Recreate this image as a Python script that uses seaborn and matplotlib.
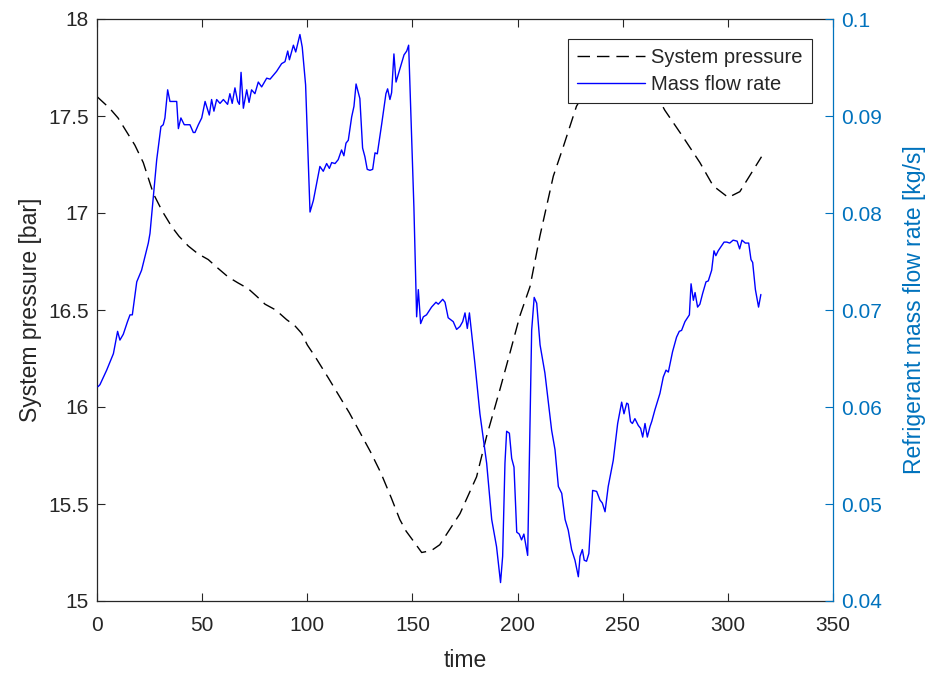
import numpy as np
import pandas as pd
import matplotlib
matplotlib.use("Agg")
import matplotlib.pyplot as plt
import seaborn as sns

# ---------------- data ----------------
time_p = [0, 3, 6, 10, 14, 18, 22, 26.8, 31, 35.5, 39, 43.4, 48, 52.9, 57, 62.4, 67, 71.9,
          76, 79.9, 85, 90.2, 94, 97.3, 100, 103.7, 110, 115, 120, 125, 130, 135, 140, 144,
          147, 150.4, 154.4, 159, 163, 166, 172.6, 180.5, 185.3, 191.6, 196.4, 201.1, 205.9,
          210.6, 217, 221.7, 228, 235, 242, 249, 256, 263, 270, 278.8, 286.7, 293, 300.2,
          305.7, 312, 316]
pressure = [17.60, 17.57, 17.54, 17.49, 17.42, 17.35, 17.26, 17.10, 17.01, 16.93, 16.88,
            16.83, 16.79, 16.76, 16.72, 16.67, 16.64, 16.61, 16.57, 16.53, 16.50, 16.45,
            16.42, 16.38, 16.32, 16.26, 16.15, 16.06, 15.97, 15.87, 15.77, 15.66, 15.53,
            15.42, 15.36, 15.31, 15.25, 15.26, 15.29, 15.34, 15.45, 15.64, 15.85, 16.09,
            16.28, 16.47, 16.62, 16.88, 17.19, 17.34, 17.55, 17.68, 17.76, 17.79, 17.76,
            17.67, 17.53, 17.39, 17.26, 17.14, 17.08, 17.11, 17.22, 17.29]

time_m = [0.5, 1.4, 4.6, 7.8, 9.8, 10.9, 12.5, 14.5, 15.7, 16.8, 18.9, 21.2, 24.4, 25.2,
          26.8, 28.4, 30.4, 31.5, 32.3, 33.6, 34.7, 37.1, 37.9, 38.7, 39.9, 41.5, 44.2,
          45.8, 46.6, 48.2, 49.8, 51.4, 53.4, 54.5, 55.6, 56.9, 58.5, 60.1, 62.1, 63.2,
          64.3, 65.6, 66.9, 67.7, 68.5, 69.6, 71.2, 72.3, 73.5, 75.1, 76.7, 78.3, 80.7,
          82.3, 85.4, 87.8, 89.4, 90.7, 91.5, 93.4, 94.5, 96.5, 97.6, 99.2, 101.3, 102.9,
          104.5, 106.0, 107.6, 109.2, 110.5, 111.6, 113.2, 114.7, 116.3, 117.4, 118.4,
          119.5, 121.1, 122.2, 123.2, 125.0, 126.3, 127.4, 128.5, 129.8, 131.1, 132.2,
          133.3, 135.4, 137.4, 138.2, 139.3, 140.1, 141.2, 142.2, 144.1, 146.0, 147.3,
          148.2, 149.1, 150.7, 152.0, 152.8, 153.9, 155.2, 156.7, 159.1, 161.2, 162.3,
          164.4, 165.5, 167.0, 169.4, 171.0, 172.6, 173.9, 175.0, 176.1, 177.1, 179.7,
          182.1, 185.3, 187.7, 190.0, 191.9, 192.9, 194.0, 194.8, 196.1, 197.2, 198.3,
          199.6, 200.8, 201.9, 203.0, 204.8, 206.7, 207.9, 209.1, 210.7, 213.0, 216.2,
          217.8, 219.4, 221.0, 222.6, 224.1, 225.7, 227.3, 228.9, 229.7, 230.8, 231.7,
          232.8, 233.9, 235.7, 237.6, 239.2, 240.3, 241.6, 243.1, 245.5, 247.6, 249.5,
          250.6, 251.9, 252.6, 253.7, 254.6, 255.8, 257.4, 258.5, 259.5, 260.6, 261.7,
          263.0, 263.8, 265.3, 267.7, 269.3, 270.6, 271.7, 273.7, 275.6, 276.9, 278.0,
          279.6, 281.7, 282.5, 283.6, 284.4, 285.6, 286.7, 288.0, 289.6, 290.7, 292.3,
          293.4, 294.3, 295.4, 298.2, 299.5, 300.9, 302.5, 304.4, 305.6, 306.7, 308.3,
          309.9, 311.0, 311.8, 313.1, 314.6, 315.7]
mass_flow = [0.0621, 0.0623, 0.0638, 0.0655, 0.0678, 0.0669, 0.0675, 0.0688, 0.0695, 0.0695,
             0.0729, 0.0741, 0.0769, 0.0779, 0.0817, 0.0855, 0.0889, 0.0891, 0.0898, 0.0927,
             0.0915, 0.0915, 0.0915, 0.0887, 0.0898, 0.0891, 0.0891, 0.0883, 0.0883, 0.0891,
             0.0898, 0.0915, 0.0901, 0.0917, 0.0905, 0.0917, 0.0913, 0.0917, 0.0912, 0.0923,
             0.0913, 0.0929, 0.0915, 0.0912, 0.0945, 0.0908, 0.0927, 0.0914, 0.0927, 0.0923,
             0.0935, 0.0930, 0.0939, 0.0938, 0.0946, 0.0954, 0.0956, 0.0967, 0.0958, 0.0973,
             0.0966, 0.0984, 0.0971, 0.0932, 0.0801, 0.0813, 0.0831, 0.0848, 0.0843, 0.0851,
             0.0846, 0.0852, 0.0851, 0.0855, 0.0865, 0.0859, 0.0872, 0.0875, 0.0899, 0.0910,
             0.0933, 0.0918, 0.0867, 0.0858, 0.0845, 0.0844, 0.0845, 0.0862, 0.0861, 0.0892,
             0.0923, 0.0928, 0.0917, 0.0924, 0.0964, 0.0935, 0.0949, 0.0963, 0.0967, 0.0973,
             0.0913, 0.0806, 0.0693, 0.0721, 0.0686, 0.0693, 0.0695, 0.0703, 0.0708, 0.0706,
             0.0711, 0.0708, 0.0692, 0.0688, 0.0680, 0.0683, 0.0688, 0.0697, 0.0681, 0.0697,
             0.0645, 0.0593, 0.0542, 0.0484, 0.0456, 0.0419, 0.0446, 0.0542, 0.0575, 0.0573,
             0.0547, 0.0538, 0.0471, 0.0469, 0.0463, 0.0469, 0.0447, 0.0679, 0.0713, 0.0707,
             0.0664, 0.0635, 0.0576, 0.0556, 0.0518, 0.0511, 0.0484, 0.0473, 0.0453, 0.0442,
             0.0425, 0.0446, 0.0453, 0.0442, 0.0441, 0.0449, 0.0514, 0.0513, 0.0504, 0.0501,
             0.0492, 0.0518, 0.0545, 0.0583, 0.0605, 0.0593, 0.0604, 0.0603, 0.0585, 0.0583,
             0.0588, 0.0581, 0.0578, 0.0569, 0.0583, 0.0569, 0.0580, 0.0585, 0.0597, 0.0614,
             0.0631, 0.0638, 0.0636, 0.0657, 0.0672, 0.0678, 0.0679, 0.0688, 0.0695, 0.0727,
             0.0710, 0.0718, 0.0703, 0.0706, 0.0717, 0.0729, 0.0730, 0.0741, 0.0761, 0.0756,
             0.0761, 0.0770, 0.0770, 0.0769, 0.0772, 0.0771, 0.0763, 0.0772, 0.0769, 0.0769,
             0.0752, 0.0749, 0.0721, 0.0703, 0.0716]

x_ticks = [0, 50, 100, 150, 200, 250, 300, 350]
left_ticks = [15, 15.5, 16, 16.5, 17, 17.5, 18]
left_labels = ["15", "15.5", "16", "16.5", "17", "17.5", "18"]
right_ticks = [0.04, 0.05, 0.06, 0.07, 0.08, 0.09, 0.1]
right_labels = ["0.04", "0.05", "0.06", "0.07", "0.08", "0.09", "0.1"]

# ---------------- style ----------------
sns.set_theme(style="white")
plt.rcParams["font.family"] = ["Liberation Sans", "DejaVu Sans"]

DARK = "#262626"
MBLUE = "#0072BD"

fig = plt.figure(figsize=(9.31, 6.73), dpi=100)
ax = fig.add_axes([97 / 931, 1 - 601 / 673, 736 / 931, 582 / 673])
ax2 = ax.twinx()

df_p = pd.DataFrame({"time": time_p, "pressure": pressure})
df_m = pd.DataFrame({"time": time_m, "mass": mass_flow})

sns.lineplot(data=df_p, x="time", y="pressure", ax=ax, color="black", linewidth=1.0,
             sort=False, estimator=None, label="System pressure", legend=False)
ax.lines[0].set_dashes((9, 5))

sns.lineplot(data=df_m, x="time", y="mass", ax=ax2, color="#0000FF", linewidth=1.0,
             sort=False, estimator=None, label="Mass flow rate", legend=False)

ax.set_xlim(0, 350)
ax.set_ylim(15, 18)
ax2.set_ylim(0.04, 0.1)

ax.set_xticks(x_ticks)
ax.set_xticklabels([str(v) for v in x_ticks])
ax.set_yticks(left_ticks)
ax.set_yticklabels(left_labels)
ax2.set_yticks(right_ticks)
ax2.set_yticklabels(right_labels)

ax.set_xlabel("time", fontsize=16.5, color=DARK, labelpad=10)
ax.set_ylabel("System pressure [bar]", fontsize=16.5, color=DARK, labelpad=4)
ax2.set_ylabel("Refrigerant mass flow rate [kg/s]", fontsize=16.5, color=MBLUE, labelpad=15)

ax.tick_params(axis="x", direction="in", top=True, bottom=True, length=6, width=0.8,
               color=DARK, labelcolor=DARK, labelsize=15, pad=11)
ax.tick_params(axis="y", direction="in", left=True, right=False, length=6, width=0.8,
               color=DARK, labelcolor=DARK, labelsize=15, pad=6)
ax2.tick_params(axis="y", direction="in", right=True, left=False, length=6, width=0.8,
                color=MBLUE, labelcolor=MBLUE, labelsize=15, pad=6)

for name, sp in ax.spines.items():
    sp.set_visible(True)
    sp.set_color(DARK)
    sp.set_linewidth(0.9)
ax.spines["right"].set_visible(False)
for name, sp in ax2.spines.items():
    sp.set_visible(False)
ax2.spines["right"].set_visible(True)
ax2.spines["right"].set_color(MBLUE)
ax2.spines["right"].set_linewidth(0.9)
ax.grid(False)
ax2.grid(False)

handles = [ax.lines[0], ax2.lines[0]]
labels = ["System pressure", "Mass flow rate"]
leg = ax2.legend(handles, labels, loc="upper right",
                 bbox_to_anchor=((812 - 97) / 736, (601 - 39) / 582),
                 borderaxespad=0, fontsize=14.5, frameon=True, fancybox=False,
                 edgecolor=DARK, framealpha=1, handlelength=3.4, handletextpad=0.3,
                 labelspacing=0.4, borderpad=0.45)
leg.get_frame().set_linewidth(0.8)

fig.savefig("out.png", dpi=100)
